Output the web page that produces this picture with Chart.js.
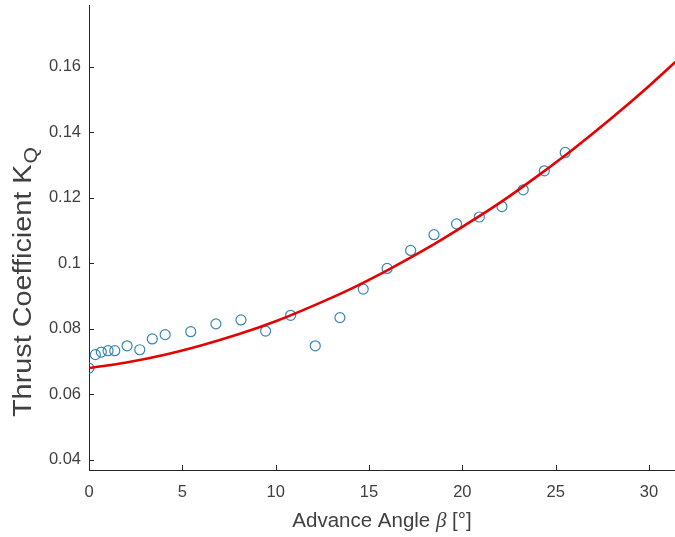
<!DOCTYPE html>
<html>
<head>
<meta charset="utf-8">
<script src="https://cdn.jsdelivr.net/npm/chart.js@4.4.1/dist/chart.umd.min.js"></script>
<style>
  html, body { margin: 0; padding: 0; background: #ffffff; }
  #wrap { width: 675px; height: 537px; }
</style>
</head>
<body>
<div id="wrap"><canvas id="c" width="675" height="537"></canvas></div>
<script>
// ---- data ----
const betaMeasured = [0.0, 0.34, 0.66, 1.02, 1.38, 2.04, 2.72, 3.39, 4.08, 5.45, 6.80, 8.14, 9.46, 10.80, 12.12, 13.44, 14.69, 15.97, 17.23, 18.48, 19.69, 20.91, 22.12, 23.26, 24.39, 25.51];
const kqMeasured   = [0.0680, 0.0721, 0.0729, 0.0733, 0.0733, 0.0748, 0.0736, 0.0769, 0.0782, 0.0791, 0.0815, 0.0827, 0.0793, 0.0841, 0.0748, 0.0834, 0.0921, 0.0984, 0.1039, 0.1087, 0.1120, 0.1141, 0.1173, 0.1224, 0.1282, 0.1338];

const betaFit = [0, 2, 4, 6, 8, 10, 12, 14, 16, 18, 20, 22, 24, 26, 28, 30, 32];
const kqFit   = [0.0680, 0.0697, 0.0720, 0.0749, 0.0783, 0.0823, 0.0870, 0.0921, 0.0979, 0.1042, 0.1111, 0.1184, 0.1265, 0.1351, 0.1443, 0.1541, 0.1645];

const xTicks = [0, 5, 10, 15, 20, 25, 30];
const xTickLabels = ['0', '5', '10', '15', '20', '25', '30'];
const yTicks = [0.04, 0.06, 0.08, 0.10, 0.12, 0.14, 0.16];
const yTickLabels = ['0.04', '0.06', '0.08', '0.1', '0.12', '0.14', '0.16'];

const xLimits = [0, 31.39];
const yLimits = [0.0369, 0.1788];

const xTitleParts = ['Advance Angle ', 'β', ' [°]'];
const yTitleMain = 'Thrust Coefficient K';
const yTitleSub = 'Q';

// ---- styles ----
const AXIS_COLOR = '#262626';
const TEXT_COLOR = '#404040';
const SANS = '"Liberation Sans", Arial, Helvetica, sans-serif';

const inwardTicks = {
  id: 'inwardTicks',
  afterDraw(chart) {
    const ctx = chart.ctx;
    const xs = chart.scales.x, ys = chart.scales.y;
    const area = chart.chartArea;
    ctx.save();
    ctx.strokeStyle = AXIS_COLOR;
    ctx.lineWidth = 1;
    ctx.beginPath();
    xs.ticks.forEach(t => {
      const px = Math.round(xs.getPixelForValue(t.value)) + 0.5;
      ctx.moveTo(px, area.bottom);
      ctx.lineTo(px, area.bottom - 5);
    });
    ys.ticks.forEach(t => {
      const py = Math.round(ys.getPixelForValue(t.value)) + 0.5;
      ctx.moveTo(area.left, py);
      ctx.lineTo(area.left + 5, py);
    });
    ctx.stroke();

    // x title with italic beta
    ctx.fillStyle = TEXT_COLOR;
    ctx.textBaseline = 'alphabetic';
    const fSans = '20.5px ' + SANS;
    const fBeta = 'italic 21px "Liberation Serif", "Times New Roman", serif';
    ctx.font = fSans; const w0 = ctx.measureText(xTitleParts[0]).width;
    ctx.font = fBeta; const w1 = ctx.measureText(xTitleParts[1]).width;
    ctx.font = fSans; const w2 = ctx.measureText(xTitleParts[2]).width;
    let x = (area.left + area.right) / 2 - (w0 + w1 + w2) / 2;
    const y = 527;
    ctx.textAlign = 'left';
    ctx.font = fSans; ctx.fillText(xTitleParts[0], x, y); x += w0;
    ctx.font = fBeta; ctx.fillText(xTitleParts[1], x, y); x += w1;
    ctx.font = fSans; ctx.fillText(xTitleParts[2], x, y);

    // y title with subscript
    ctx.save();
    const fY = '26px ' + SANS;
    const fSub = '19px ' + SANS;
    ctx.font = fY; const m = ctx.measureText(yTitleMain).width;
    ctx.font = fSub; const s = ctx.measureText(yTitleSub).width;
    const total = m + s + 1;
    const span = 270;
    ctx.translate(31, 282);
    ctx.rotate(-Math.PI / 2);
    ctx.scale(span / total, 1);
    let tx = -total / 2;
    ctx.font = fY; ctx.fillText(yTitleMain, tx, 0);
    ctx.font = fSub; ctx.fillText(yTitleSub, tx + m + 1, 6);
    ctx.restore();
    ctx.restore();
  }
};

new Chart(document.getElementById('c'), {
  type: 'scatter',
  data: {
    datasets: [
      {
        label: 'fit',
        data: betaFit.map((b, i) => ({ x: b, y: kqFit[i] })),
        showLine: true,
        borderColor: '#e60000',
        borderWidth: 2.6,
        pointRadius: 0,
        cubicInterpolationMode: 'monotone',
        fill: false
      },
      {
        label: 'measured',
        data: betaMeasured.map((b, i) => ({ x: b, y: kqMeasured[i] })),
        showLine: false,
        pointStyle: 'circle',
        pointRadius: 5,
        borderColor: '#3a86b4',
        backgroundColor: 'rgba(0,0,0,0)',
        borderWidth: 1.2
      }
    ]
  },
  options: {
    responsive: false,
    animation: false,
    devicePixelRatio: 1,
    layout: { autoPadding: false, padding: { top: 5, left: 0, right: 0, bottom: 0 } },
    plugins: { legend: { display: false }, tooltip: { enabled: false }, title: { display: false } },
    scales: {
      x: {
        type: 'linear',
        min: xLimits[0], max: xLimits[1],
        afterBuildTicks: sc => { sc.ticks = xTicks.map(v => ({ value: v })); },
        afterFit: sc => { sc.height = 67; sc.paddingLeft = 0; sc.paddingRight = 0; sc.paddingTop = 0; sc.paddingBottom = 0; },
        grid: { display: true, drawOnChartArea: false, drawTicks: false },
        border: { display: true, color: AXIS_COLOR, width: 1 },
        ticks: {
          padding: 13,
          color: TEXT_COLOR,
          font: { family: SANS, size: 16.5 },
          maxRotation: 0,
          autoSkip: false,
          callback: (v) => { const i = xTicks.indexOf(v); return i >= 0 ? xTickLabels[i] : ''; }
        },
        title: { display: false }
      },
      y: {
        type: 'linear',
        min: yLimits[0], max: yLimits[1],
        afterBuildTicks: sc => { sc.ticks = yTicks.map(v => ({ value: v })); },
        afterFit: sc => { sc.width = 89; sc.paddingLeft = 0; sc.paddingRight = 0; sc.paddingTop = 0; sc.paddingBottom = 0; },
        grid: { display: true, drawOnChartArea: false, drawTicks: false },
        border: { display: true, color: AXIS_COLOR, width: 1 },
        ticks: {
          padding: 8,
          color: TEXT_COLOR,
          font: { family: SANS, size: 16.5 },
          autoSkip: false,
          callback: (v) => { const i = yTicks.findIndex(t => Math.abs(t - v) < 1e-9); return i >= 0 ? yTickLabels[i] : ''; }
        },
        title: { display: false }
      }
    }
  },
  plugins: [inwardTicks]
});
</script>
</body>
</html>
